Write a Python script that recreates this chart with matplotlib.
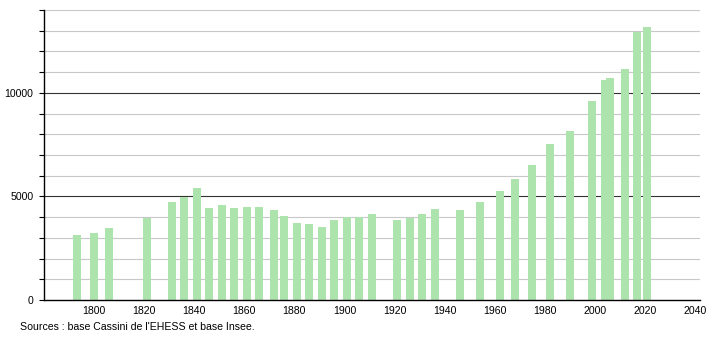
import matplotlib
matplotlib.use("Agg")
import matplotlib.pyplot as plt
from matplotlib.ticker import MultipleLocator

plt.rcParams["font.family"] = ["Liberation Sans", "DejaVu Sans"]

# census years and population
years = [1793, 1800, 1806, 1821, 1831, 1836, 1841, 1846, 1851, 1856,
         1861, 1866, 1872, 1876, 1881, 1886, 1891, 1896, 1901, 1906,
         1911, 1921, 1926, 1931, 1936, 1946, 1954, 1962, 1968, 1975,
         1982, 1990, 1999, 2004, 2006, 2012, 2017, 2021]
population = [3150, 3250, 3500, 3960, 4750, 4980, 5420, 4460, 4600, 4460,
              4500, 4500, 4350, 4060, 3740, 3690, 3530, 3840, 4010, 4020,
              4130, 3870, 3960, 4170, 4400, 4350, 4710, 5240, 5860, 6500,
              7520, 8150, 9610, 10630, 10730, 11170, 12930, 13160]
x_ticks = list(range(1800, 2041, 20))
y_labels = [0, 5000, 10000]
source = "Sources : base Cassini de l'EHESS et base Insee."

fig = plt.figure(figsize=(7.1, 3.4), dpi=100)
ax = fig.add_axes([44 / 710, 40 / 340, 656 / 710, 290 / 340])

# grid: light every 1000, dark every 5000
for v in range(1000, 14001, 1000):
    if v % 5000 == 0:
        ax.axhline(v, color="#333333", lw=0.8, zorder=1)
    else:
        ax.axhline(v, color="#c8c8c8", lw=0.8, zorder=1)

ax.bar(years, population, width=3.2, color="#ade3ad", zorder=2)

ax.set_xlim(1780, 2042)
ax.set_ylim(0, 14000)
ax.set_xticks(x_ticks)
ax.set_yticks(y_labels)
ax.yaxis.set_minor_locator(MultipleLocator(1000))
ax.tick_params(axis="x", length=0, labelsize=7.6, pad=4)
ax.tick_params(axis="y", which="both", length=3.6, width=0.8, labelsize=7.6,
               direction="out", pad=4)
for s in ("top", "right"):
    ax.spines[s].set_visible(False)
for s in ("left", "bottom"):
    ax.spines[s].set_linewidth(1.0)
    ax.spines[s].set_color("black")

fig.text(20 / 710, 1 - 327 / 340, source, fontsize=7.6, va="center")

fig.savefig("out.png", dpi=100)
